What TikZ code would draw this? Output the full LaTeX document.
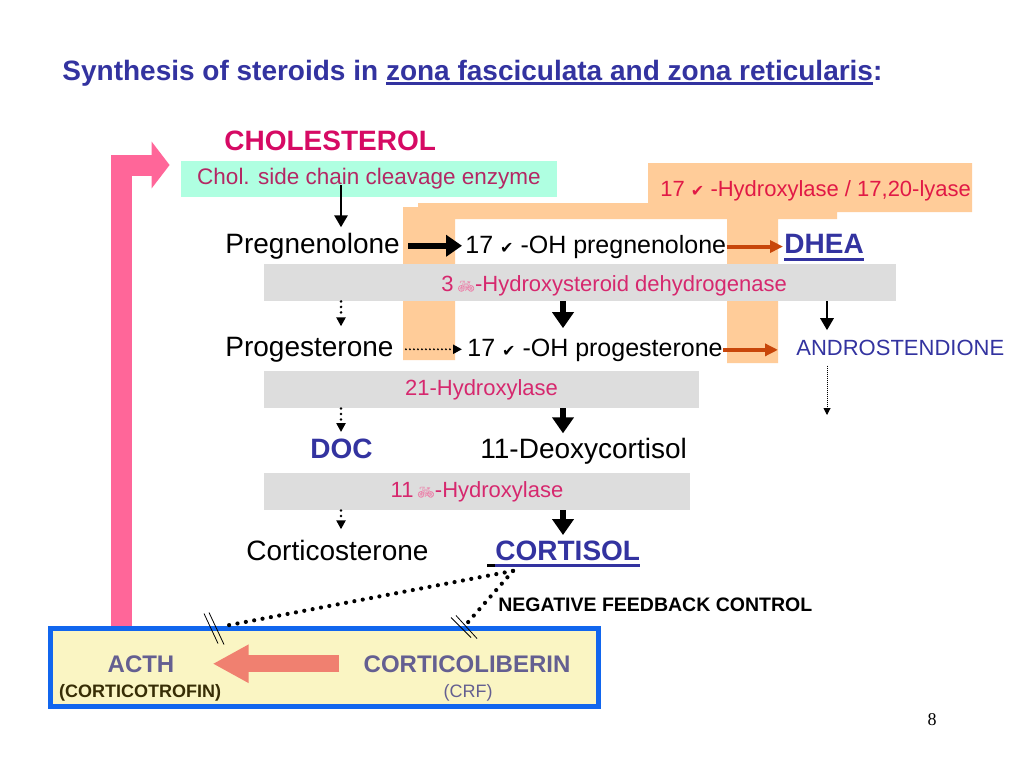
\documentclass[tikz,border=0pt]{standalone}
\usepackage{fontspec}
\setmainfont{Liberation Sans}
\newfontfamily\dejavu{DejaVu Sans}
\newfontfamily\emojifont{Noto Emoji}
\newfontfamily\serifnum{Liberation Serif}
\usetikzlibrary{arrows.meta,calc}

\definecolor{titleblue}{RGB}{51,51,160}
\definecolor{cholpink}{RGB}{214,10,100}
\definecolor{enzpink}{RGB}{214,40,110}
\definecolor{enzrose}{RGB}{180,40,100}
\definecolor{lyasered}{RGB}{225,25,70}
\definecolor{mint}{RGB}{175,255,225}
\definecolor{peachy}{RGB}{255,204,153}
\definecolor{barfill}{RGB}{221,221,221}
\definecolor{rust}{RGB}{200,70,10}
\definecolor{hotpink}{RGB}{255,102,153}
\definecolor{salmonred}{RGB}{240,128,112}
\definecolor{boxblue}{RGB}{17,102,238}
\definecolor{pale}{RGB}{250,245,195}
\definecolor{slate}{RGB}{100,95,145}
\definecolor{darkolive}{RGB}{55,45,5}
\definecolor{bikepink}{RGB}{235,130,170}

\newcommand{\fsz}[1]{\fontsize{#1}{#1}\selectfont}
\newcommand{\chk}{{\dejavu\fsz{16}✔}}
\newcommand{\bike}{{\emojifont\fsz{14}\color{bikepink}🚲}}
% underline: depth below baseline, thickness, text
\newcommand{\ulin}[3]{\setbox0\hbox{#3}\rlap{\rule[-#1]{\wd0}{#2}}\box0}

\begin{document}
\begin{tikzpicture}[x=1pt,y=-1pt,>=stealth,thick,
  txt/.style={inner sep=0pt,anchor=base west,font=\fsz{#1}},
  txt/.default=28,
  bar/.style={fill=barfill,inner sep=0pt,text=enzpink,font=\fsz{22}},
  fat/.style={line width=6.5pt,-{Triangle[length=16pt,width=21pt]}},
  slim/.style={line width=2.8pt,-{Triangle[length=12pt,width=13pt]}},
  dots/.style={line width=2.8pt,line cap=round,dash pattern=on 0pt off 5.5pt,-{Triangle[length=9pt,width=9pt]}},
  rusty/.style={rust,line width=4pt,-{Triangle[length=13pt,width=12pt]}},
  feedback/.style={line width=4.2pt,line cap=round,dash pattern=on 0pt off 8.5pt}]
\useasboundingbox (0,0) rectangle (1024,768);
\fill[white] (0,0) rectangle (1024,768);

% peach background of the 17-hydroxylase
\fill[peachy] (403,207) rectangle (455,360)
  (418,203) rectangle (837,219)
  (648,163) rectangle (972,212)
  (727,203) rectangle (778,363);

% enzyme bars
\node[bar,minimum width=632pt,minimum height=37pt] (b1) at (580,282.5) {};
\node[bar,minimum width=435pt,minimum height=37pt] (b2) at (481.5,389.5) {21-Hydroxylase};
\node[bar,minimum width=426pt,minimum height=37pt] (b3) at (477,491.5) {11\,\bike-Hydroxylase};
\node[fill=mint,minimum width=376pt,minimum height=36pt,inner sep=0pt,text=enzrose,font=\fsz{22.5}] (enz) at (369,179) {Chol. side chain cleavage enzyme};

% texts
\node[txt,text=titleblue,font=\bfseries\fsz{28}] (title) at (62,80) {Synthesis of steroids in \ulin{4.5pt}{2.5pt}{zona fasciculata and zona reticularis}:};
\node[txt,text=cholpink,font=\bfseries\fsz{28}] (chol) at (224,150) {CHOLESTEROL};
\node[txt=22,text=lyasered] (lyase) at (660,196) {17 \chk{} -Hydroxylase / 17,20-lyase};
\node[txt] (preg) at (225,253) {Pregnenolone};
\node[txt=25] (ohpreg) at (465,253) {17 \chk{} -OH pregnenolone};
\node[txt,text=titleblue,font=\bfseries\fsz{28}] (dhea) at (784,253) {\ulin{7.5pt}{3pt}{DHEA}};
\node[txt=22,text=enzpink] (hsd) at (441,291) {3\,\bike-Hydroxysteroid dehydrogenase};
\node[txt] (prog) at (225,356) {Progesterone};
\node[txt=25] (ohprog) at (467,356) {17 \chk{} -OH progesterone};
\node[txt=22,text=titleblue] (andro) at (796,355) {ANDROSTENDIONE};
\node[txt,text=titleblue,font=\bfseries\fsz{28}] (doc) at (310,458) {DOC};
\node[txt] (deoxy) at (480,458) {11-Deoxycortisol};
\node[txt] (cortico) at (246,560) {Corticosterone};
\node[txt,text=titleblue,font=\bfseries\fsz{28}] (cortisol) at (487,560) {{\color{black}\rule[-6.5pt]{8pt}{2.5pt}}\ulin{6.5pt}{2.5pt}{CORTISOL}};
\node[txt,font=\bfseries\fsz{19.5}] (nfc) at (498,611) {NEGATIVE FEEDBACK CONTROL};
\node[font=\serifnum\fsz{18},inner sep=0pt,anchor=base] (pg) at (932,725) {8};

% pink arrow back to the cleavage enzyme
\draw[hotpink,line width=21pt,shorten >=11pt,-{Triangle[length=18pt,width=46pt]}]
  (121,628) |- ($(enz.west)+(0,-14)$);

% pituitary box
\node[draw=boxblue,line width=5pt,fill=pale,minimum width=548pt,minimum height=78pt,inner sep=0pt] (pit) at (324,667) {};
\node[text=slate,font=\bfseries\fsz{24},inner sep=0pt,anchor=base] (acth) at (141,672) {ACTH};
\node[text=darkolive,font=\bfseries\fsz{18},inner sep=0pt,anchor=base] (cotro) at (140,697) {(CORTICOTROFIN)};
\node[text=slate,font=\bfseries\fsz{24},inner sep=0pt,anchor=base] (crh) at (467,672) {CORTICOLIBERIN};
\node[text=slate,font=\fsz{18},inner sep=0pt,anchor=base] (crf) at (468,697) {(CRF)};
\draw[salmonred,line width=17pt,shorten <=24pt,shorten >=38pt,-{Triangle[length=36pt,width=36pt]}]
  (crh.west) -- (crh.west -| acth.east);

% columns
\coordinate (lc) at (341,0);
\coordinate (mc) at (563,0);
\coordinate (rc) at (827,0);

% down arrows
\draw[slim] ($(enz.center -| lc)+(0,6)$) -- ($(preg.north -| lc)+(0,-5)$);
\draw[dots] (b1.south -| lc) -- ($(prog.north -| lc)+(0,-10)$);
\draw[dots] (b2.south -| lc) -- ($(doc.north -| lc)+(0,-6)$);
\draw[dots] (b3.south -| lc) -- ($(cortico.north -| lc)+(0,-10)$);
\draw[fat] (b1.south -| mc) -- ($(ohprog.north -| mc)+(0,-10)$);
\draw[fat] (b2.south -| mc) -- ($(deoxy.north -| mc)+(0,-4)$);
\draw[fat] (b3.south -| mc) -- ($(cortisol.north -| mc)+(0,-5)$);
\draw[slim] (b1.south -| rc) -- ($(andro.north -| rc)+(0,-9)$);
\coordinate (andout) at (827,415);
\draw[line width=1pt,densely dotted,-{Triangle[length=7pt,width=7pt]}] ($(andro.south -| rc)+(0,10)$) -- (andout);

% across arrows
\draw[fat,shorten <=8pt,shorten >=3pt] (preg.east) -- (preg.east -| ohpreg.west);
\draw[rusty,shorten >=1pt] (ohpreg.east) -- (ohpreg.east -| dhea.west);
\draw[dots,line width=2.2pt,dash pattern=on 0pt off 4pt,shorten <=12pt,shorten >=5pt] (prog.east) -- (prog.east -| ohprog.west);
\draw[rusty,shorten >=18pt] (ohprog.east) -- (ohprog.east -| andro.west);

% negative feedback
\coordinate (fb) at ($(cortisol.south west)+(26,4)$);
\coordinate (ticka) at ($(pit.north west)+(179.5,0)$);
\coordinate (tickb) at ($(pit.north west)+(418.5,-1)$);
\draw[feedback] (fb) -- (ticka);
\draw[feedback] (fb) -- (tickb);
\draw[line width=0.8pt] ([shift={(-23,-12)}]ticka) -- ++(14,30)
  ([shift={(-18,-13)}]ticka) -- ++(15,32);
\draw[line width=0.8pt] ([shift={(-15,-7)}]tickb) -- ++(20,20)
  ([shift={(-10,-9)}]tickb) -- ++(21,23);
\end{tikzpicture}
\end{document}
